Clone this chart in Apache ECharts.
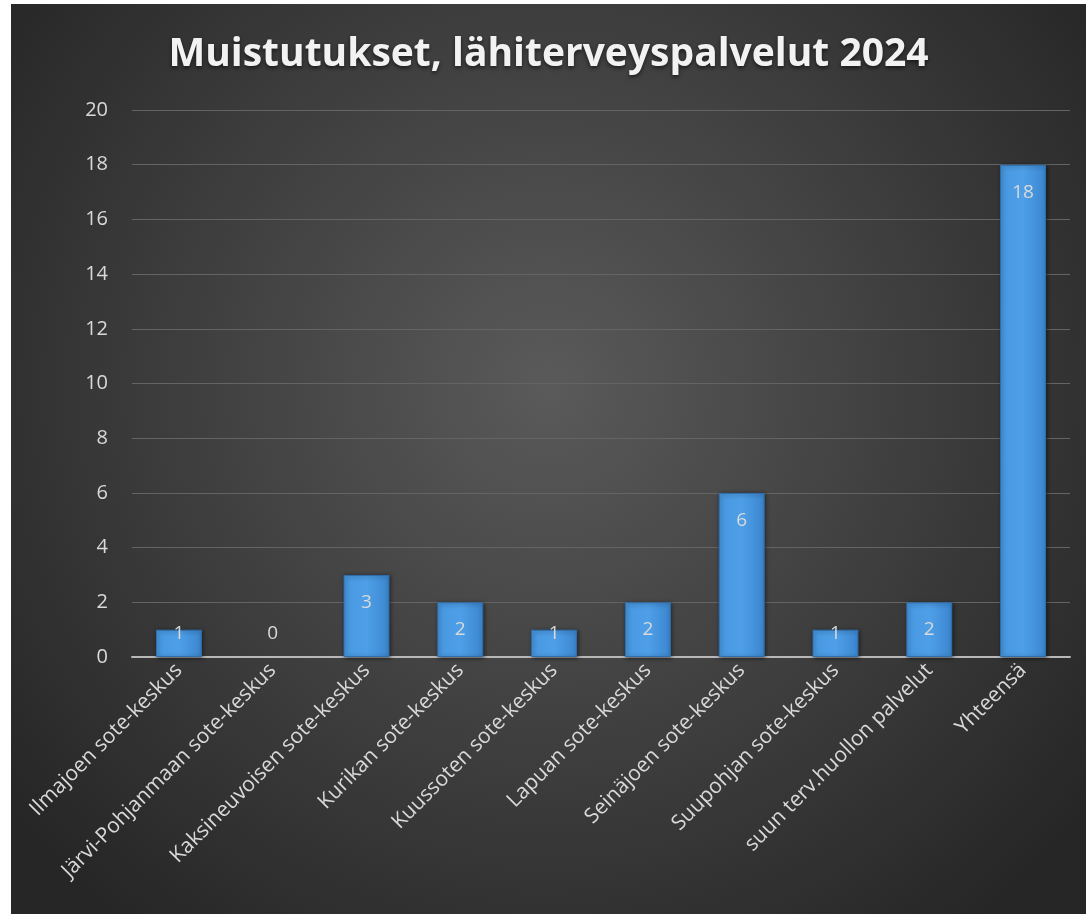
<!DOCTYPE html>
<html>
<head>
<meta charset="utf-8">
<script src="https://cdn.jsdelivr.net/npm/echarts@6/dist/echarts.min.js"></script>
<style>
  html, body { margin: 0; padding: 0; background: #ffffff; }
  #chart { position: absolute; left: 11px; top: 4px; width: 1075px; height: 910px; }
</style>
</head>
<body>
<div id="chart"></div>
<script>
const categories = [
  "Ilmajoen sote-keskus",
  "Järvi-Pohjanmaan sote-keskus",
  "Kaksineuvoisen sote-keskus",
  "Kurikan sote-keskus",
  "Kuussoten sote-keskus",
  "Lapuan sote-keskus",
  "Seinäjoen sote-keskus",
  "Suupohjan sote-keskus",
  "suun terv.huollon palvelut",
  "Yhteensä"
]
const values = [1, 0, 3, 2, 1, 2, 6, 1, 2, 18]
const yTicks = [0, 2, 4, 6, 8, 10, 12, 14, 16, 18, 20]

const labelColor = "#d9d9d9"
const font = "'Open Sans', sans-serif"

// small bars: label is pushed up from the baseline instead of hanging from the top
const barData = values.map((v) => ({
  value: v,
  itemStyle: v === 0
    ? { color: "transparent", borderWidth: 0, shadowBlur: 0, shadowOffsetX: 0, shadowOffsetY: 0 }
    : undefined,
  label: v < 2
    ? { position: "insideBottom", distance: 14 }
    : { position: "insideTop", distance: 18 }
}))

const chart = echarts.init(document.getElementById("chart"), null, { renderer: "canvas" })

chart.setOption({
  backgroundColor: {
    type: "radial",
    x: 0.5, y: 0.42, r: 0.75,
    colorStops: [
      { offset: 0, color: "#5a5a5a" },
      { offset: 1, color: "#262626" }
    ]
  },
  textStyle: { fontFamily: font },
  title: {
    text: "Muistutukset, lähiterveyspalvelut 2024",
    left: "center",
    top: 26,
    textStyle: {
      color: "#f2f2f2",
      fontSize: 39,
      fontWeight: "bold",
      fontFamily: font,
      textShadowColor: "rgba(0,0,0,0.6)",
      textShadowBlur: 4,
      textShadowOffsetY: 2
    }
  },
  grid: { left: 121, right: 16, top: 106, bottom: 257, containLabel: false },
  xAxis: {
    type: "category",
    data: categories,
    axisTick: { show: false },
    axisLine: { lineStyle: { color: "#b8b8b8", width: 2 } },
    axisLabel: {
      interval: 0,
      rotate: 45,
      color: labelColor,
      fontSize: 21,
      margin: 10
    }
  },
  yAxis: {
    type: "value",
    min: yTicks[0],
    max: yTicks[yTicks.length - 1],
    interval: 2,
    axisLine: { show: false },
    axisTick: { show: false },
    axisLabel: { color: labelColor, fontSize: 20, margin: 24 },
    splitLine: { lineStyle: { color: "#646464", width: 1 } }
  },
  series: [{
    type: "bar",
    data: barData,
    barWidth: "49%",
    itemStyle: {
      color: {
        type: "linear", x: 0, y: 0, x2: 1, y2: 0,
        colorStops: [
          { offset: 0, color: "#4798e0" },
          { offset: 0.5, color: "#4e9fe8" },
          { offset: 1, color: "#3b86ce" }
        ]
      },
      borderColor: "#2f6fae",
      borderWidth: 1,
      shadowColor: "rgba(0,0,0,0.5)",
      shadowBlur: 4,
      shadowOffsetX: 1,
      shadowOffsetY: 1
    },
    label: {
      show: true,
      color: labelColor,
      fontSize: 19
    }
  }]
})
</script>
</body>
</html>
